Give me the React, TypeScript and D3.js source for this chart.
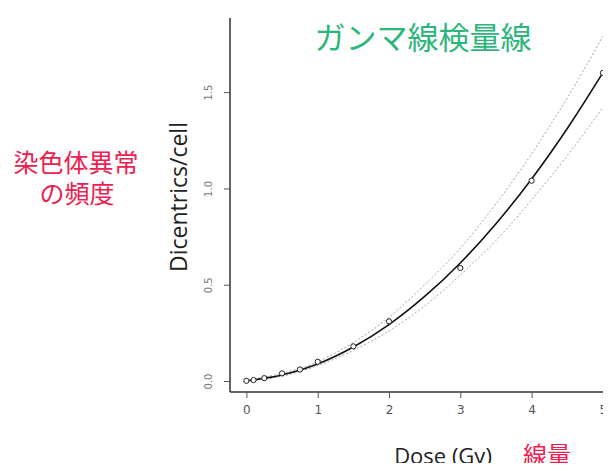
import React, { useRef, useEffect } from 'react'
import * as d3 from 'd3'

// observed points
const doses = [0, 0.1, 0.25, 0.5, 0.75, 1, 1.5, 2, 3, 4, 5]
const dicentrics = [0.001, 0.005, 0.015, 0.04, 0.06, 0.1, 0.18, 0.31, 0.587, 1.04, 1.6]

// fitted curve and its band, read at these doses
const curveDoses = [0, 0.5, 1, 1.5, 2, 2.5, 3, 3.5, 4, 4.5, 5]
const fitValues = [0.001, 0.031, 0.089, 0.177, 0.293, 0.439, 0.613, 0.817, 1.049, 1.311, 1.601]
const upperValues = [0.005, 0.04, 0.1, 0.2, 0.33, 0.5, 0.69, 0.92, 1.18, 1.47, 1.79]
const lowerValues = [0, 0.025, 0.08, 0.16, 0.26, 0.39, 0.55, 0.73, 0.94, 1.17, 1.42]

const xTicks = [0, 1, 2, 3, 4, 5]
const yTicks = [0, 0.5, 1, 1.5]

const App = () => {
    const ref = useRef<SVGSVGElement>(null)
    useEffect(() => {
        const w = 611
        const h = 471
        const svg = d3.select(ref.current)
        svg.selectAll('*').remove()
        svg.attr('width', w).attr('height', h).style('display', 'block').style('background', 'white')

        const left = 230, right = 640, top = 18, bottom = 392
        const x = d3.scaleLinear().domain([-0.23, 5.52]).range([left, right])
        const y = d3.scaleLinear().domain([-0.057, 1.885]).range([bottom, top])

        svg.append('defs').append('clipPath').attr('id', 'plotclip')
            .append('rect').attr('x', left).attr('y', top).attr('width', w - left).attr('height', bottom - top)

        const plot = svg.append('g').attr('clip-path', 'url(#plotclip)')
        const line = d3.line<number>()
            .x((d, i) => x(curveDoses[i]))
            .y(d => y(d))
            .curve(d3.curveMonotoneX)

        // confidence band
        ;[upperValues, lowerValues].forEach(vals => {
            plot.append('path')
                .attr('d', line(vals))
                .attr('fill', 'none')
                .attr('stroke', '#999')
                .attr('stroke-width', 0.9)
                .attr('stroke-dasharray', '2,2')
        })

        plot.append('path')
            .attr('d', line(fitValues))
            .attr('fill', 'none')
            .attr('stroke', '#111')
            .attr('stroke-width', 1.6)

        plot.selectAll('.pt')
            .data(doses)
            .join('circle')
            .attr('cx', d => x(d))
            .attr('cy', (d, i) => y(dicentrics[i]))
            .attr('r', 2.6)
            .attr('fill', 'white')
            .attr('stroke', '#222')
            .attr('stroke-width', 1)

        // axes (R style, bty="l")
        svg.append('line').attr('x1', left).attr('x2', left).attr('y1', top).attr('y2', bottom)
            .attr('stroke', '#333').attr('stroke-width', 1.5)
        svg.append('line').attr('x1', left).attr('x2', w).attr('y1', bottom).attr('y2', bottom)
            .attr('stroke', '#333').attr('stroke-width', 1.5)

        const xAxis = d3.axisBottom(x).tickValues(xTicks).tickSize(6).tickPadding(7)
            .tickFormat(d => String(d))
        const gx = svg.append('g').attr('transform', `translate(0, ${bottom})`).call(xAxis)
        gx.select('.domain').remove()
        gx.selectAll('line').attr('stroke', '#555')
        gx.selectAll('text').style('font-family', 'DejaVu Sans, sans-serif').style('font-size', '12px').style('fill', '#555')

        const yAxis = d3.axisLeft(y).tickValues(yTicks).tickSize(6).tickFormat(d3.format('.1f'))
        const gy = svg.append('g').attr('transform', `translate(${left}, 0)`).call(yAxis)
        gy.select('.domain').remove()
        gy.selectAll('line').attr('stroke', '#555')
        gy.selectAll('text')
            .attr('x', 0).attr('y', 0).attr('dy', null)
            .attr('text-anchor', 'middle')
            .attr('transform', 'translate(-22, 0) rotate(-90)')
            .attr('dominant-baseline', 'central')
            .style('font-family', 'DejaVu Sans, sans-serif').style('font-size', '10px').style('fill', '#777')

        // titles
        svg.append('text').attr('x', 423).attr('y', 49).attr('text-anchor', 'middle')
            .style('font-family', 'Noto Sans CJK JP').style('font-size', '31px').style('fill', '#2db67c')
            .text('ガンマ線検量線')

        svg.append('text').attr('transform', 'translate(187, 197) rotate(-90)').attr('text-anchor', 'middle')
            .style('font-family', 'Open Sans, sans-serif').style('font-size', '23px').style('fill', '#222')
            .text('Dicentrics/cell')

        svg.append('text').attr('x', 443).attr('y', 464).attr('text-anchor', 'middle')
            .style('font-family', 'Open Sans, sans-serif').style('font-size', '22px').style('fill', '#222')
            .text('Dose (Gy)')
        svg.append('text').attr('x', 547).attr('y', 464).attr('text-anchor', 'middle')
            .style('font-family', 'Noto Sans CJK JP').style('font-size', '24px').style('fill', '#ee2050')
            .text('線量')

        const redStyle = (t: d3.Selection<SVGTextElement, unknown, null, undefined>) => t
            .attr('text-anchor', 'middle')
            .style('font-family', 'Noto Sans CJK JP').style('font-size', '25px').style('fill', '#ee2050')
        svg.append('text').attr('x', 76).attr('y', 172).call(redStyle).text('染色体異常')
        svg.append('text').attr('x', 77).attr('y', 203).call(redStyle).text('の頻度')
    }, [])
    return (
        <div style={{ margin: -8 }}>
            <svg ref={ref}></svg>
        </div>
    )
}

export default App
